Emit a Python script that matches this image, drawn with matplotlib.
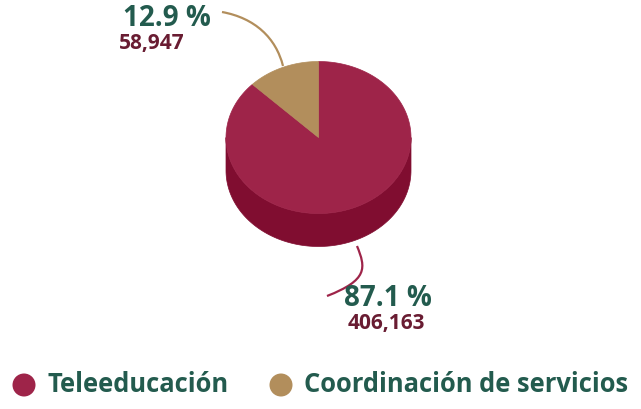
import numpy as np
import matplotlib
matplotlib.use("Agg")
import matplotlib.pyplot as plt
from matplotlib.patches import Polygon, Circle
from matplotlib.path import Path
from matplotlib.patches import PathPatch

categories = ["Teleeducación", "Coordinación de servicios"]
values = [406163, 58947]
percent_labels = ["87.1 %", "12.9 %"]
value_labels = ["406,163", "58,947"]

top_colors = ["#9e2449", "#b28e5c"]
side_colors = ["#800d30", "#8a6a40"]
green = "#235b4e"
maroon = "#691c32"

fig = plt.figure(figsize=(6.41, 4.09), dpi=100)
ax = fig.add_axes([0, 0, 1, 1])
ax.set_xlim(0, 641)
ax.set_ylim(409, 0)
ax.axis("off")

cx, cy, rx, ry, depth = 318.5, 137.5, 92.5, 76, 33

total = sum(values)
fracs = [v / total for v in values]
a_tan0 = 90.0
a_tan1 = 90.0 + fracs[1] * 360
angles = {1: (a_tan0, a_tan1), 0: (a_tan1, 450.0)}

def pt(theta, dy=0.0):
    t = np.radians(theta)
    return cx + rx * np.cos(t), cy - ry * np.sin(t) + dy

# side walls (visible front: 180..360)
for i in (0, 1):
    a0, a1 = angles[i]
    for shift in (0, 360):
        lo2, hi2 = max(a0 - shift, 180), min(a1 - shift, 360)
        if hi2 > lo2:
            th = np.linspace(lo2, hi2, 120)
            top = [pt(t) for t in th]
            bot = [pt(t, depth) for t in th[::-1]]
            ax.add_patch(Polygon(top + bot, closed=True, facecolor=side_colors[i],
                                 edgecolor=side_colors[i], lw=0.5, zorder=2))

# top faces
for i in (0, 1):
    a0, a1 = angles[i]
    th = np.linspace(a0, a1, 300)
    poly = [(cx, cy)] + [pt(t) for t in th]
    ax.add_patch(Polygon(poly, closed=True, facecolor=top_colors[i],
                         edgecolor=top_colors[i], lw=0.5, zorder=3))

# leader lines
verts = [(222, 12), (255, 18), (276, 38), (283, 66)]
ax.add_patch(PathPatch(Path(verts, [Path.MOVETO, Path.CURVE4, Path.CURVE4, Path.CURVE4]),
                       facecolor="none", edgecolor=top_colors[1], lw=1.6, zorder=1))
verts2 = [(357, 246), (366, 268), (368, 280), (327, 296)]
ax.add_patch(PathPatch(Path(verts2, [Path.MOVETO, Path.CURVE4, Path.CURVE4, Path.CURVE4]),
                       facecolor="none", edgecolor=top_colors[0], lw=1.6, zorder=1))

fam = ["Open Sans", "DejaVu Sans"]
ax.text(167, 18, percent_labels[1], color=green, fontsize=20, fontweight="bold",
        family=fam, ha="center", va="center")
ax.text(152, 44, value_labels[1], color=maroon, fontsize=15, fontweight="bold",
        family=fam, ha="center", va="center")
ax.text(388, 299, percent_labels[0], color=green, fontsize=20, fontweight="bold",
        family=fam, ha="center", va="center")
ax.text(386, 324, value_labels[0], color=maroon, fontsize=15, fontweight="bold",
        family=fam, ha="center", va="center")

# legend
leg_x = [24, 281]
for i in range(2):
    ax.add_patch(Circle((leg_x[i], 385), 11.5, facecolor=top_colors[i], edgecolor="none"))
    ax.text(leg_x[i] + 23, 385, categories[i], color=green, fontsize=18.4, fontweight="bold",
            family=fam, ha="left", va="center")

fig.savefig("out.png", dpi=100)
